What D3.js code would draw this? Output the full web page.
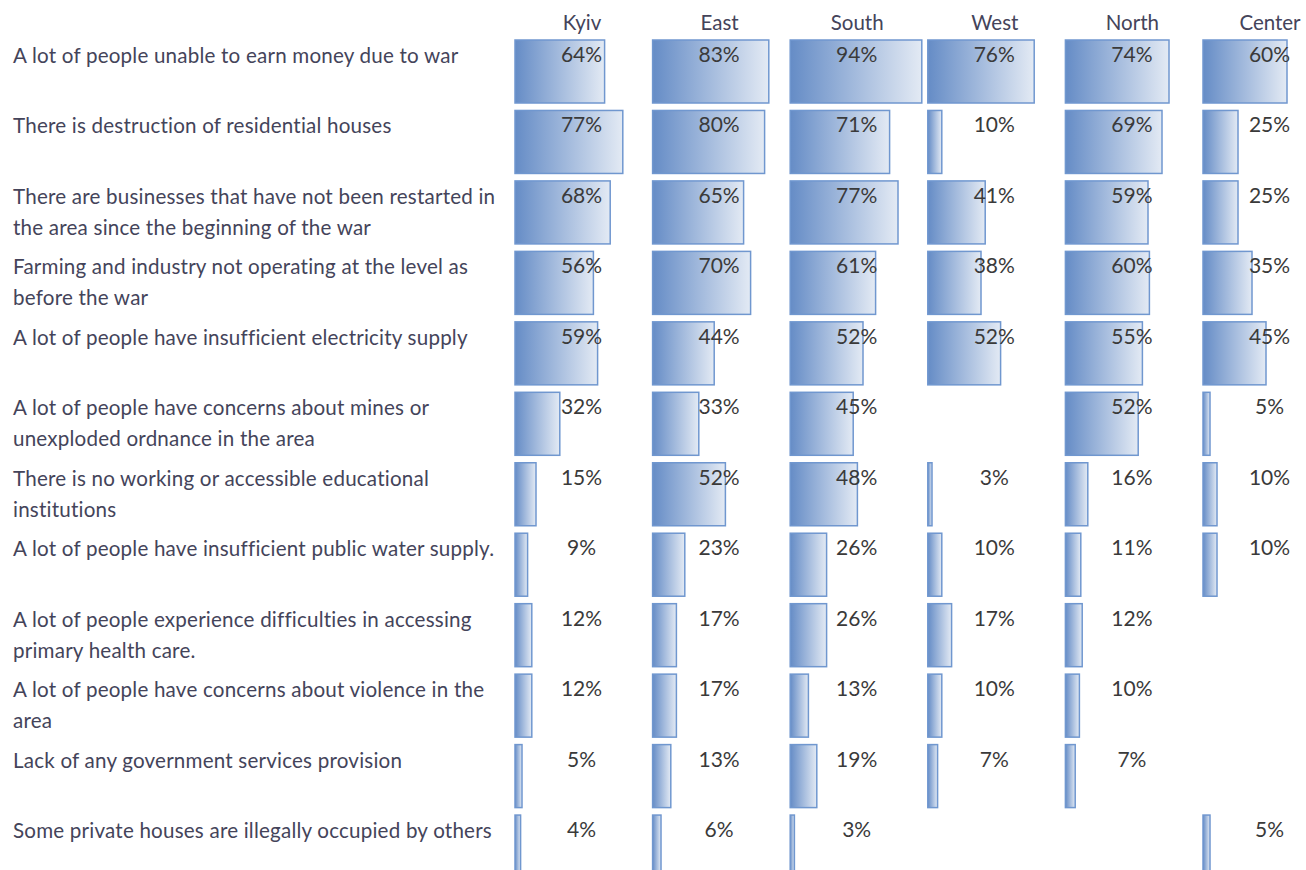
<!DOCTYPE html>
<html>
<head>
<meta charset="utf-8">
<script src="https://cdn.jsdelivr.net/npm/d3@7"></script>
<style>
  html, body { margin: 0; padding: 0; background: #fff; }
  svg { display: block; }
  text { font-family: "Lato", "Open Sans", sans-serif; fill: #44445a; }
</style>
</head>
<body>
<svg id="chart" width="1306" height="870"></svg>
<script>
// Regions shown as columns
const regions = ["Kyiv", "East", "South", "West", "North", "Center"];

// Issue statements (line breaks as laid out in the label column)
const issues = [
  ["A lot of people unable to earn money due to war"],
  ["There is destruction of residential houses"],
  ["There are businesses that have not been restarted in", "the area since the beginning of the war"],
  ["Farming and industry not operating at the level as", "before the war"],
  ["A lot of people have insufficient electricity supply"],
  ["A lot of people have concerns about mines or", "unexploded ordnance in the area"],
  ["There is no working or accessible educational", "institutions"],
  ["A lot of people have insufficient public water supply."],
  ["A lot of people experience difficulties in accessing", "primary health care."],
  ["A lot of people have concerns about violence in the", "area"],
  ["Lack of any government services provision"],
  ["Some private houses are illegally occupied by others"]
];

// Share of respondents (%) per region; null = not reported
const kyiv   = [64, 77, 68, 56, 59, 32, 15,  9, 12, 12,  5,  4];
const east   = [83, 80, 65, 70, 44, 33, 52, 23, 17, 17, 13,  6];
const south  = [94, 71, 77, 61, 52, 45, 48, 26, 26, 13, 19,  3];
const west   = [76, 10, 41, 38, 52, null, 3, 10, 17, 10,  7, null];
const north  = [74, 69, 59, 60, 55, 52, 16, 11, 12, 10,  7, null];
const center = [60, 25, 25, 35, 45,  5, 10, 10, null, null, null, 5];

const series = [kyiv, east, south, west, north, center];

const svg = d3.select("#chart");

const defs = svg.append("defs");
const grad = defs.append("linearGradient")
  .attr("id", "barFill")
  .attr("x1", "0%").attr("x2", "100%")
  .attr("y1", "0%").attr("y2", "0%");
grad.append("stop").attr("offset", "0%").attr("stop-color", "#658cc6");
grad.append("stop").attr("offset", "100%").attr("stop-color", "#e3eaf4");

// Column positions (one band per region)
const colStep = 137.6;
const x0 = d3.scaleBand()
  .domain(regions)
  .range([515, 515 + colStep * regions.length])
  .paddingInner(0).paddingOuter(0);

// Bar length for a percentage
const w = d3.scaleLinear().domain([0, 100]).range([0, 140]);

// Row positions
const rowStep = 70.46;
const y = d3.scaleBand()
  .domain(d3.range(issues.length))
  .range([40, 40 + rowStep * issues.length])
  .paddingInner(0).paddingOuter(0);
const barH = 63;

// Category labels
const labels = svg.append("g").attr("class", "labels");
issues.forEach((lines, i) => {
  const t = labels.append("text")
    .attr("x", 13)
    .attr("y", y(i) + 23)
    .style("font-size", "20.6px")
    .style("letter-spacing", "0.2px");
  lines.forEach((ln, j) => {
    t.append("tspan").attr("x", 13).attr("dy", j === 0 ? 0 : 31).text(ln);
  });
});

// Region headers
svg.append("g").selectAll("text")
  .data(regions)
  .join("text")
  .attr("x", d => x0(d) + 67)
  .attr("y", 30)
  .attr("text-anchor", "middle")
  .style("font-size", "20.5px")
  .text(d => d);

// Bars and value labels
const cells = [];
regions.forEach((r, ci) => {
  series[ci].forEach((v, ri) => {
    if (v != null) cells.push({ region: r, row: ri, value: v });
  });
});

const g = svg.append("g");
g.selectAll("rect")
  .data(cells)
  .join("rect")
  .attr("x", d => x0(d.region))
  .attr("y", d => y(d.row))
  .attr("width", d => w(d.value))
  .attr("height", barH)
  .attr("fill", "url(#barFill)")
  .attr("stroke", "#7097cf")
  .attr("stroke-width", 1.5);

g.selectAll("text")
  .data(cells)
  .join("text")
  .attr("x", d => x0(d.region) + 66.5)
  .attr("y", d => y(d.row) + 22)
  .attr("text-anchor", "middle")
  .style("font-size", "21px")
  .style("fill", "#3a3a3a")
  .text(d => d.value + "%");
</script>
</body>
</html>
